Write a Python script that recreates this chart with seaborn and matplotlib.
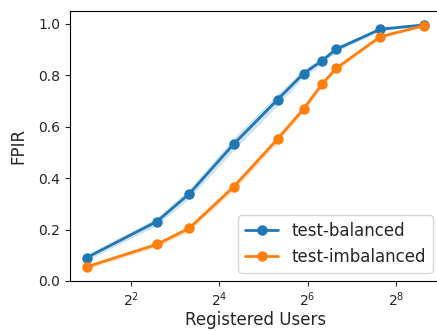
import matplotlib
matplotlib.use("Agg")
import matplotlib.pyplot as plt
import seaborn as sns
import pandas as pd

registered_users = [2, 6, 10, 20, 40, 60, 80, 100, 200, 400]
fpir_balanced = [0.091, 0.231, 0.339, 0.531, 0.705, 0.806, 0.855, 0.900, 0.978, 0.995]
fpir_imbalanced = [0.055, 0.142, 0.205, 0.365, 0.552, 0.668, 0.764, 0.826, 0.949, 0.992]
err_balanced = [0.012, 0.015, 0.018, 0.024, 0.022, 0.015, 0.012, 0.010, 0.006, 0.003]
err_imbalanced = [0.008, 0.010, 0.012, 0.014, 0.014, 0.012, 0.012, 0.010, 0.007, 0.003]
series_names = ["test-balanced", "test-imbalanced"]

sns.set_style("ticks")
plt.rcParams['font.family'] = ['DejaVu Sans']

rows = []
for name, vals in zip(series_names, [fpir_balanced, fpir_imbalanced]):
    for x, y in zip(registered_users, vals):
        rows.append({"Registered Users": x, "FPIR": y, "split": name})
df = pd.DataFrame(rows)

fig = plt.figure(figsize=(4.37, 3.31), dpi=100)
ax = fig.add_axes([70/437, 1 - 281/331, (441 - 70)/437, (281 - 10.7)/331])

colors = ["#1f77b4", "#ff7f0e"]
for name, vals, errs, c in zip(series_names, [fpir_balanced, fpir_imbalanced],
                               [err_balanced, err_imbalanced], colors):
    lo = [v - e for v, e in zip(vals, errs)]
    hi = [v + e for v, e in zip(vals, errs)]
    ax.fill_between(registered_users, lo, hi, color=c, alpha=0.2, linewidth=0)

sns.lineplot(data=df, x="Registered Users", y="FPIR", hue="split", palette=colors,
             marker="o", markersize=7.5, markeredgewidth=0, linewidth=2, ax=ax)

ax.set_xscale("log", base=2)
ax.set_xticks([4, 16, 64, 256])
ax.set_xlim(2 ** 0.62, 2 ** 9.02)
ax.set_ylim(0, 1.05)
ax.set_yticks([0.0, 0.2, 0.4, 0.6, 0.8, 1.0])
ax.minorticks_off()
ax.tick_params(labelsize=10)
ax.set_xlabel("Registered Users", fontsize=12, labelpad=1)
ax.set_ylabel("FPIR", fontsize=12, labelpad=8)
leg = ax.legend(loc="lower right", fontsize=12, title=None,
                bbox_to_anchor=(0.97, 0.0, 0.03, 1))
for s in ax.spines.values():
    s.set_color("black")

fig.savefig("out.png", dpi=100)
